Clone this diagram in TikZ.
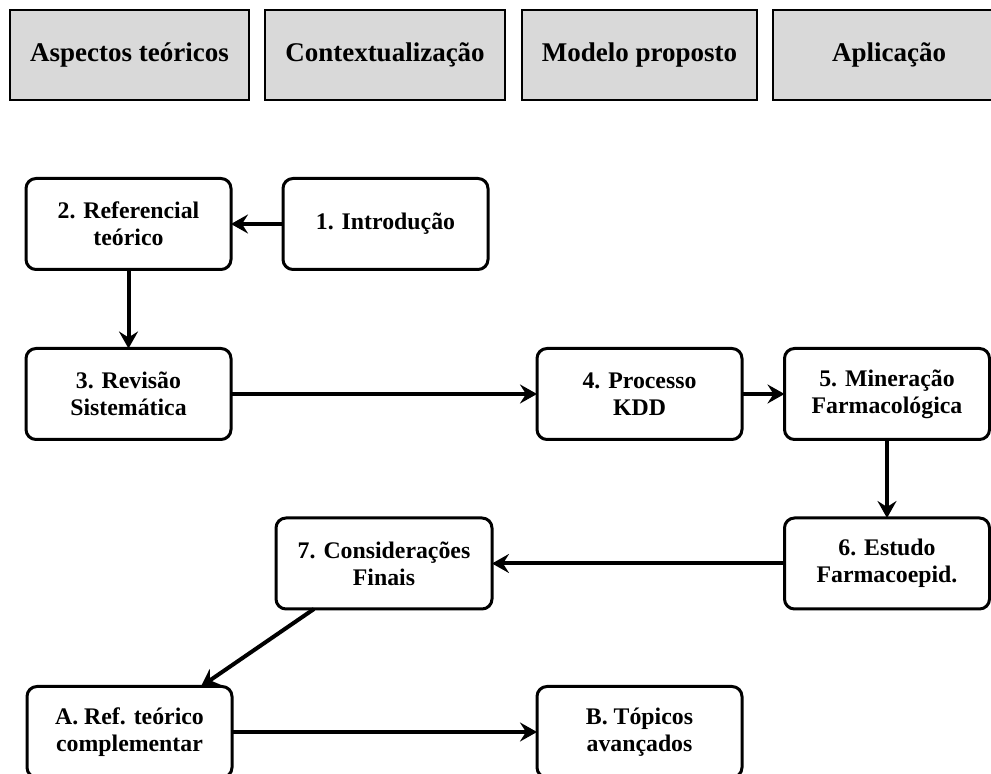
\documentclass[tikz,border=0pt]{standalone}
\usepackage{fontspec}
\setmainfont{Liberation Serif}
\usetikzlibrary{arrows.meta,calc}
\definecolor{phasegray}{HTML}{D9D9D9}
\begin{document}
\begin{tikzpicture}[x=0.5pt,y=-0.5pt,
  phase/.style={draw=black, line width=0.8pt, fill=phasegray,
    minimum height=45pt, inner sep=0pt, outer sep=0pt,
    font=\fontsize{13.5pt}{13.5pt}\selectfont\bfseries},
  chapter/.style={draw=black, line width=1.5pt, rounded corners=5pt, fill=white,
    minimum width=102.5pt, minimum height=45.5pt, inner sep=0pt, outer sep=0pt,
    align=center, font=\fontsize{11.9pt}{13.5pt}\selectfont\bfseries},
  flow/.style={line width=2pt, -{Stealth[length=8.5pt,width=9.5pt,inset=3pt]}}
]
\useasboundingbox (0,0) rectangle (991,774);
\clip (0,0) rectangle (991,774);

% part headers
\node[phase, minimum width=119.5pt] (p1) at (129.5,55) {Aspectos teóricos};
\node[phase, minimum width=120pt]   (p2) at (385,55)   {Contextualização};
\node[phase, minimum width=117.5pt] (p3) at (639.5,55) {Modelo proposto};
\node[phase, minimum width=116pt]   (p4) at (889,55)   {Aplicação};

% chapters
\node[chapter] (c2) at (128.5,224) {2. Referencial\\teórico};
\node[chapter] (c1) at (385.5,224) {1. Introdução};
\node[chapter] (c3) at (128.5,394) {3. Revisão\\Sistemática};
\node[chapter] (c4) at (639.5,394) {4. Processo\\KDD};
\node[chapter] (c5) at (887,394)   {5. Mineração\\Farmacológica};
\node[chapter] (c6) at (887,563.5) {6. Estudo\\Farmacoepid.};
\node[chapter, minimum width=108pt] (c7) at (384,563.5) {7. Considerações\\Finais};
\node[chapter] (ca) at (129.5,732) {A. Ref. teórico\\complementar};
\node[chapter] (cb) at (639.5,732) {B. Tópicos\\avançados};

% reading order
\draw[flow] (c1) -- (c2);
\draw[flow] (c2) -- (c3);
\draw[flow] (c3) -- (c4);
\draw[flow] (c4) -- (c5);
\draw[flow] (c5) -- (c6);
\draw[flow] (c6) -- (c7);
\draw[flow] ($(c7.south west)+(38,0)$) -- ($(ca.north east)+(-31,0)$);
\draw[flow] (ca) -- (cb);
\end{tikzpicture}
\end{document}
